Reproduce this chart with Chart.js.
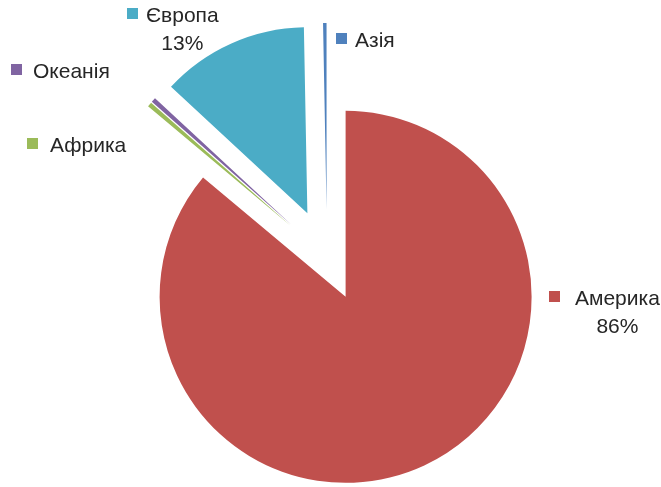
<!DOCTYPE html>
<html>
<head>
<meta charset="utf-8">
<script src="https://cdn.jsdelivr.net/npm/chart.js@4.4.0/dist/chart.umd.min.js"></script>
<style>
    html, body { margin: 0; padding: 0; background: #fff; }
    #wrap { width: 661px; height: 487px; }
</style>
</head>
<body>
<div id="wrap"><canvas id="chartRegions"></canvas></div>
<script>
// Share by region, clockwise from 12 o'clock
const regions = ['Америка', 'Африка', 'Океанія', 'Європа', 'Азія'];
const shares = [86.1, 0.4, 0.4, 12.8, 0.3];
const sliceColors = ['#C0504D', '#9BBB59', '#8064A2', '#4BACC6', '#4F81BD'];

// how far each slice is pulled out from the centre, px
const explodeBy = [44, 48, 48, 48, 48];

// label layout: colour key x, text x, text baseline
const labelSpots = [
    { key: 549, x: 575, y: 305 },
    { key: 27, x: 50, y: 152 },
    { key: 11, x: 33, y: 78 },
    { key: 127, x: 146, y: 22 },
    { key: 336, x: 355, y: 47 }
];

// Built-in arc offset also widens the radius and trims the angle,
// so move each arc ourselves and let the element draw itself
const explodedSlices = {
    id: 'explodedSlices',
    beforeDatasetDraw(chart, args) {
        const ctx = chart.ctx;
        args.meta.data.forEach((arc, i) => {
            const mid = (arc.startAngle + arc.endAngle) / 2;
            const d = explodeBy[i] || 0;
            ctx.save();
            ctx.translate(Math.cos(mid) * d, Math.sin(mid) * d);
            arc.draw(ctx);
            ctx.restore();
        });
        return false;
    }
};

const pieLabels = {
    id: 'pieLabels',
    afterDraw(chart) {
        const ctx = chart.ctx;
        const data = chart.data.datasets[0].data;
        const total = data.reduce((a, b) => a + b, 0);
        ctx.save();
        ctx.font = '21px "Liberation Sans", Arial, sans-serif';
        ctx.textBaseline = 'alphabetic';
        chart.data.labels.forEach((name, i) => {
            const spot = labelSpots[i];
            ctx.fillStyle = sliceColors[i];
            ctx.fillRect(spot.key, spot.y - 14, 11, 11);
            ctx.fillStyle = '#262626';
            ctx.textAlign = 'left';
            ctx.fillText(name, spot.x, spot.y);
            const pct = Math.round(data[i] / total * 100);
            if (pct >= 1) {
                const w = ctx.measureText(name).width;
                ctx.textAlign = 'center';
                ctx.fillText(pct + '%', spot.x + w / 2, spot.y + 28);
            }
        });
        ctx.restore();
    }
};

new Chart(document.getElementById('chartRegions'), {
    type: 'pie',
    data: {
        labels: regions,
        datasets: [{
            data: shares,
            backgroundColor: sliceColors,
            borderWidth: 0
        }]
    },
    options: {
        responsive: true,
        maintainAspectRatio: false,
        animation: false,
        radius: 186,
        layout: { padding: { top: 27, right: 7, left: 0, bottom: 0 } },
        plugins: {
            legend: { display: false },
            tooltip: { enabled: false }
        }
    },
    plugins: [explodedSlices, pieLabels]
});
</script>
</body>
</html>
